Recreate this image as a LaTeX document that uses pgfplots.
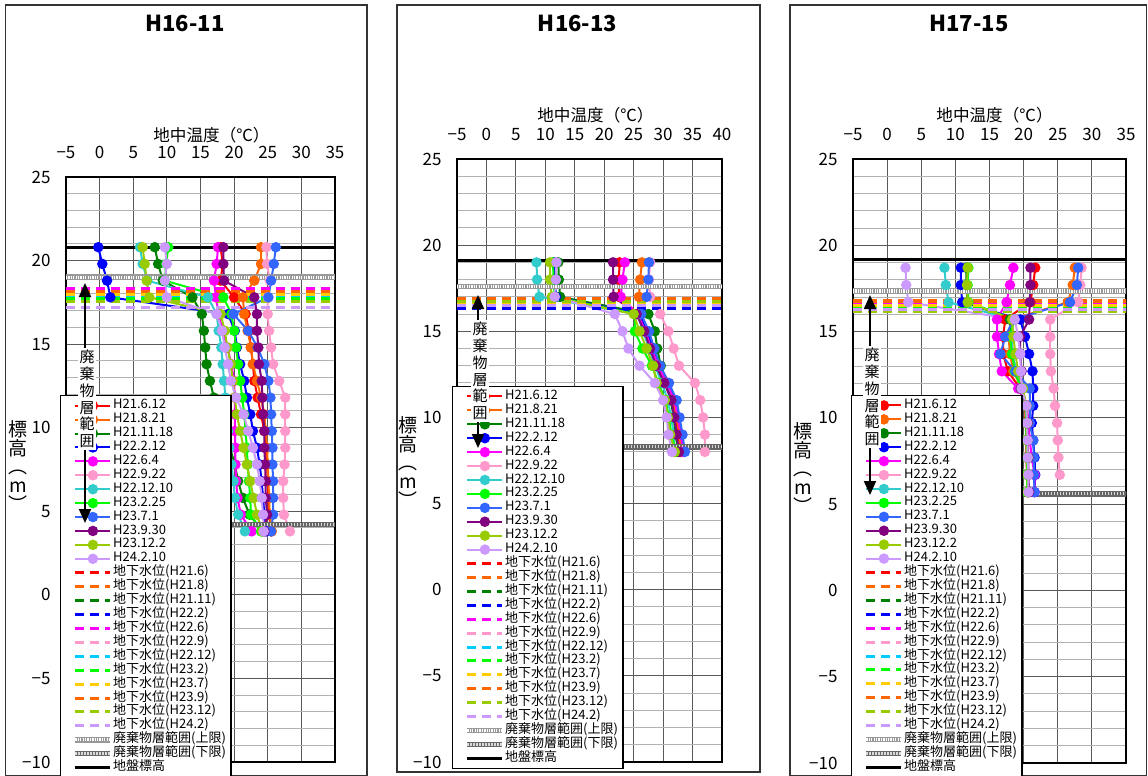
\documentclass[border=0pt]{standalone}
\usepackage{pgfplots}
\pgfplotsset{compat=1.18}
\usepackage{pgfplotstable}
\usepackage{fontspec}
\setmainfont{Noto Sans CJK JP}
\usetikzlibrary{arrows.meta}

% series colours
\definecolor{cRed}{HTML}{FF0000}
\definecolor{cOrange}{HTML}{FF6600}
\definecolor{cDGreen}{HTML}{008000}
\definecolor{cBlue}{HTML}{0000FF}
\definecolor{cMagenta}{HTML}{FF00FF}
\definecolor{cPink}{HTML}{FF99CC}
\definecolor{cTeal}{HTML}{33CCCC}
\definecolor{cLime}{HTML}{00FF00}
\definecolor{cRoyal}{HTML}{3366FF}
\definecolor{cPurple}{HTML}{800080}
\definecolor{cYGreen}{HTML}{99CC00}
\definecolor{cLavender}{HTML}{CC99FF}
\definecolor{cSky}{HTML}{00CCFF}
\definecolor{cYellow}{HTML}{FFCC00}

% ground temperature profiles: elevation E (m), temperature per survey (deg C)
\pgfplotstableread{
E    r    o    dg   b    m    p    t    l    rb   pu   yg   lv
20.8 18.0 24.0 8.2  -0.2 17.6 24.8 6.0  10.2 26.2 18.4 6.4  9.7
19.8 18.3 24.0 8.7  0.4  17.4 24.9 6.4  9.9  25.9 18.4 6.7  10.0
18.8 18.0 23.0 9.4  1.1  17.0 25.3 7.1  9.7  25.5 18.5 7.0  9.7
17.8 20.0 21.3 13.8 1.6  17.3 25.0 16.1 18.4 25.1 23.0 7.4  10.0
16.8 21.7 21.5 15.2 19.1 17.7 25.0 17.4 19.6 19.9 23.4 18.0 17.4
15.8 22.2 22.0 15.5 20.1 18.3 25.2 17.7 20.0 22.1 23.4 18.6 18.2
14.8 22.5 22.5 15.7 20.4 19.0 25.5 18.1 20.3 23.5 23.6 19.0 18.6
13.8 22.8 22.8 15.9 20.9 19.6 25.8 18.3 20.6 24.5 23.7 19.5 19.1
12.8 23.0 23.4 16.4 21.5 20.0 26.7 18.5 20.9 25.1 24.1 19.8 19.5
11.8 23.5 24.0 17.0 21.9 20.1 27.6 18.7 21.2 25.4 24.2 20.1 20.3
10.8 24.0 24.5 17.8 22.4 20.1 27.6 18.9 21.5 25.5 24.3 20.4 21.4
9.8  24.5 24.7 18.6 22.8 20.1 27.6 19.1 21.7 25.6 24.5 20.9 22.1
8.8  24.7 24.9 19.4 23.4 20.2 27.6 19.3 21.9 25.7 24.5 21.4 22.8
7.8  24.9 25.0 20.1 23.8 20.2 27.5 19.6 22.0 25.7 24.6 21.9 23.4
6.8  25.0 25.1 20.6 24.1 20.3 27.3 19.9 22.2 25.8 24.7 22.4 23.8
5.8  25.1 25.2 21.3 24.3 20.5 27.3 20.1 22.4 25.8 24.7 22.9 24.1
4.8  25.2 25.3 22.3 24.5 21.0 27.4 20.6 22.5 25.8 24.9 23.4 24.3
3.8  25.5 25.6 24.2 24.8 22.6 28.3 21.6 24.0 25.5 24.5 24.2 24.4
}\dataA

\pgfplotstableread{
E    r    o    dg   b    m    p    t    l    rb   pu   yg   lv
19   22.6 26.4 12.2 11.5 23.5 27.8 8.5  11.3 27.6 21.5 10.8 11.9
18   22.5 26.1 12.3 11.6 23.1 27.6 8.6  11.4 27.5 21.5 10.8 11.8
17   22.5 25.9 12.5 11.8 22.8 27.8 9.0  11.6 27.2 21.6 11.1 11.6
16   25.8 25.9 27.5 26.0 25.7 29.5 25.6 25.2 26.3 25.5 25.0 21.8
15   27.0 27.1 28.6 27.2 27.0 30.9 26.6 25.2 27.6 26.8 26.0 23.1
14   28.0 28.1 29.0 28.3 28.0 31.8 27.6 26.5 28.5 27.8 27.2 24.1
13   29.0 29.1 29.6 29.2 29.2 32.7 28.6 28.1 29.5 28.8 28.3 26.0
12   30.4 30.5 30.6 30.7 30.6 35.4 29.8 29.2 31.0 30.2 28.9 28.6
11   31.6 31.8 31.3 32.0 31.9 36.3 30.8 30.4 32.3 31.4 30.3 30.0
10   32.2 32.3 31.8 32.6 32.5 36.8 31.4 31.0 32.8 31.9 30.8 30.6
9    32.6 32.8 32.1 33.1 33.0 37.1 31.8 31.4 33.3 32.3 31.2 30.9
8    33.0 33.1 32.6 33.5 33.4 37.1 32.0 32.2 33.7 32.7 32.0 31.5
}\dataB

\pgfplotstableread{
E    r    o    dg   b    m    p    t    l    rb   pu   yg   lv
18.7 21.7 27.5 11.6 10.8 18.5 28.5 8.4  11.9 28.0 21.0 11.8 2.7
17.7 21.4 27.2 11.6 10.8 18.0 28.3 8.6  11.8 27.8 21.0 11.7 2.8
16.7 21.0 26.5 11.8 11.0 17.5 28.0 9.0  11.9 26.8 20.9 11.8 3.1
15.7 17.3 18.2 18.0 19.5 16.1 23.9 18.5 18.6 18.5 20.8 18.3 18.7
14.7 17.0 17.8 18.2 20.2 16.1 23.9 18.2 18.0 17.3 19.5 18.5 19.2
13.7 17.0 18.0 18.4 20.8 16.4 23.9 18.4 18.3 16.6 19.5 18.8 19.5
12.7 17.7 18.5 18.8 21.3 16.8 24.0 18.9 18.7 18.8 19.7 19.2 19.6
11.7 19.5 19.7 19.8 21.4 19.2 24.4 19.8 19.6 20.9 19.6 19.9 19.7
10.7 20.2 20.3 20.4 21.4 20.5 24.6 20.3 20.3 20.9 20.4 20.4 20.4
9.7  20.3 20.4 20.5 21.2 20.7 24.9 20.4 20.4 20.9 20.6 20.5 20.5
8.7  20.4 20.5 20.5 21.4 20.9 25.0 20.5 20.4 21.4 20.6 20.5 20.6
7.7  20.4 20.6 20.6 21.6 21.2 25.1 20.5 20.5 21.5 20.7 20.6 20.6
6.7  20.5 20.6 20.6 21.7 21.6 25.3 20.5 20.5 21.5 20.7 20.6 20.7
5.7  20.5 20.7 20.7 21.6 21.6 nan  20.6 20.5 21.6 20.8 20.6 20.7
}\dataC

\pgfplotsset{
  ser/.style={line width=1pt, mark=*, mark size=2.1pt, mark options={solid}},
  gw/.style={line width=1.5pt, dash pattern=on 4.5pt off 3pt},
  uplim/.style={draw=black!40, line width=2.8pt,
    postaction={draw=white, line width=1.6pt, dash pattern=on 0.6pt off 0.6pt}},
  lowlim/.style={draw=black!60, line width=2.8pt,
    postaction={draw=black!15, line width=1.4pt, dash pattern=on 0.6pt off 0.9pt}},
  ground/.style={draw=black, line width=1.5pt},
  panel/.style={
    scale only axis, anchor=north west,
    xmin=-5, ymin=-10, ymax=25,
    axis line style={line width=0.6pt},
    xticklabel pos=upper,
    ytick={-10,-5,...,25},
    yticklabels={−10,−5,0,5,10,15,20,25},
    minor ytick={-9,-8,...,24},
    grid=both,
    major grid style={black!65, line width=0.5pt},
    minor grid style={black!30, line width=0.5pt},
    major tick length=0pt, minor tick length=0pt,
    tick label style={font=\fontsize{8.5}{10}\selectfont},
    xticklabel style={yshift=5.5pt},
    yticklabel style={xshift=-4.2pt},
    xlabel={地中温度（℃）},
    x label style={at={(axis description cs:0.5,1)}, anchor=center,
      font=\fontsize{8.3}{10}\selectfont},
    legend cell align=left,
    legend image code/.code={\path (0pt,0pt);
      \draw[mark repeat=2,mark phase=2,##1]
      plot coordinates {(3.5pt,0pt) (12.25pt,0pt) (21pt,0pt)};},
    legend style={anchor=north west, draw=black, line width=0.6pt, fill=white,
      font=\fontsize{6.5}{7}\selectfont, inner xsep=2.5pt, inner ysep=1.5pt,
      row sep=0pt, column sep=0pt,
      nodes={inner sep=0pt, text height=5pt, text depth=1.96pt}},
    legend entries={H21.6.12,H21.8.21,H21.11.18,H22.2.12,H22.6.4,H22.9.22,
      H22.12.10,H23.2.25,H23.7.1,H23.9.30,H23.12.2,H24.2.10,
      地下水位(H21.6),地下水位(H21.8),地下水位(H21.11),地下水位(H22.2),
      地下水位(H22.6),地下水位(H22.9),地下水位(H22.12),地下水位(H23.2),
      地下水位(H23.7),地下水位(H23.9),地下水位(H23.12),地下水位(H24.2),
      廃棄物層範囲(上限),廃棄物層範囲(下限),地盤標高},
  },
}

% the twelve temperature profiles of one borehole
\newcommand\profiles[1]{%
  \addplot[ser, cRed]      table[x=r,  y=E] {#1};
  \addplot[ser, cOrange]   table[x=o,  y=E] {#1};
  \addplot[ser, cDGreen]   table[x=dg, y=E] {#1};
  \addplot[ser, cBlue]     table[x=b,  y=E] {#1};
  \addplot[ser, cMagenta]  table[x=m,  y=E] {#1};
  \addplot[ser, cPink]     table[x=p,  y=E] {#1};
  \addplot[ser, cTeal]     table[x=t,  y=E] {#1};
  \addplot[ser, cLime]     table[x=l,  y=E] {#1};
  \addplot[ser, cRoyal]    table[x=rb, y=E] {#1};
  \addplot[ser, cPurple]   table[x=pu, y=E] {#1};
  \addplot[ser, cYGreen]   table[x=yg, y=E] {#1};
  \addplot[ser, cLavender] table[x=lv, y=E] {#1};
}
% groundwater levels of the twelve surveys
\newcommand\gwA[6]{%
  \addplot[gw, cRed]      coordinates {(-5,#1) (40,#1)};
  \addplot[gw, cOrange]   coordinates {(-5,#2) (40,#2)};
  \addplot[gw, cDGreen]   coordinates {(-5,#3) (40,#3)};
  \addplot[gw, cBlue]     coordinates {(-5,#4) (40,#4)};
  \addplot[gw, cMagenta]  coordinates {(-5,#5) (40,#5)};
  \addplot[gw, cPink]     coordinates {(-5,#6) (40,#6)};
}
\newcommand\gwB[6]{%
  \addplot[gw, cSky]      coordinates {(-5,#1) (40,#1)};
  \addplot[gw, cLime]     coordinates {(-5,#2) (40,#2)};
  \addplot[gw, cYellow]   coordinates {(-5,#3) (40,#3)};
  \addplot[gw, cOrange]   coordinates {(-5,#4) (40,#4)};
  \addplot[gw, cYGreen]   coordinates {(-5,#5) (40,#5)};
  \addplot[gw, cLavender] coordinates {(-5,#6) (40,#6)};
}
% waste layer top, waste layer bottom, ground surface
\newcommand\levels[3]{%
  \addplot[uplim]  coordinates {(-5,#1) (40,#1)};
  \addplot[lowlim] coordinates {(-5,#2) (40,#2)};
  \addplot[ground] coordinates {(-5,#3) (40,#3)};
}

\begin{document}
\begin{tikzpicture}
\path[use as bounding box] (0pt,0pt) rectangle (574pt,-388pt);

% panel frames
\draw[line width=0.7pt, black!80] (2.75pt,-2.5pt) rectangle (183.5pt,-387.6pt);
\draw[line width=0.7pt, black!80] (198.5pt,-2.5pt) rectangle (380pt,-386pt);
\draw[line width=0.7pt, black!80] (395pt,-2.5pt) rectangle (573.2pt,-387.6pt);

% ---------------- H16-11
\begin{axis}[panel, at={(33pt,-88.5pt)}, width=134.5pt, height=292.5pt,
  xmax=35, xtick={-5,0,...,35}, xticklabels={−5,0,5,10,15,20,25,30,35},
  x label style={yshift=21pt, xshift=5.5pt},
  legend style={at={(axis cs:-5.89,11.95)}}]
  \profiles{\dataA}
  \gwA{18.05}{18.2}{17.7}{17.65}{18.35}{17.9}
  \gwB{17.8}{17.75}{17.95}{18.15}{17.55}{17.2}
  \levels{19.0}{4.2}{20.8}
\end{axis}

% ---------------- H16-13
\begin{axis}[panel, at={(228.5pt,-79.5pt)}, width=132.5pt, height=301.5pt,
  xmax=40, xtick={-5,0,...,40}, xticklabels={−5,0,5,10,15,20,25,30,35,40},
  x label style={yshift=22pt, xshift=3pt},
  legend style={at={(axis cs:-5.85,11.83)}}]
  \profiles{\dataB}
  \gwA{16.8}{16.92}{16.72}{16.33}{16.8}{16.7}
  \gwB{16.55}{16.82}{16.63}{16.9}{16.72}{16.47}
  \levels{17.6}{8.3}{19.1}
\end{axis}

% ---------------- H17-15
\begin{axis}[panel, at={(426.5pt,-79.5pt)}, width=136.5pt, height=302pt,
  xmax=35, xtick={-5,0,...,35}, xticklabels={−5,0,5,10,15,20,25,30,35},
  x label style={yshift=22pt, xshift=2.5pt},
  legend style={at={(axis cs:-5.29,11.33)}}]
  \profiles{\dataC}
  \gwA{16.64}{16.79}{16.29}{16.2}{16.6}{16.5}
  \gwB{16.45}{16.41}{16.5}{16.75}{16.15}{16.3}
  \levels{17.35}{5.6}{19.15}
\end{axis}

% titles
\node[font=\bfseries\fontsize{11}{12}\selectfont] at (92.5pt,-11.5pt) {H16-11};
\node[font=\bfseries\fontsize{11}{12}\selectfont] at (288.75pt,-11.5pt) {H16-13};
\node[font=\bfseries\fontsize{11}{12}\selectfont] at (484.5pt,-11.5pt) {H17-15};

% vertical axis titles
\foreach \xx/\yy in {9/233, 204/231, 401.5/234}
  \node[align=center, font=\fontsize{9.5}{9.4}\selectfont, inner sep=0pt]
    at (\xx pt,-\yy pt) {標\\高\\︵\\m\\︶};

% waste layer range arrows
\foreach \xx/\ya/\yb/\yt in {42.5/141.5/261.5/199.5, 239/147.5/224/185.5, 435/147.5/247.5/198.5}{
  \draw[line width=1pt, {Triangle[width=6pt,length=7pt]}-{Triangle[width=6pt,length=7pt]}]
    (\xx pt,-\ya pt) -- (\xx pt,-\yb pt);
  \node[fill=white, inner sep=0.8pt, align=center, font=\fontsize{7.5}{8.4}\selectfont]
    at (\xx pt+1pt,-\yt pt) {廃\\棄\\物\\層\\範\\囲};
}
\end{tikzpicture}
\end{document}
